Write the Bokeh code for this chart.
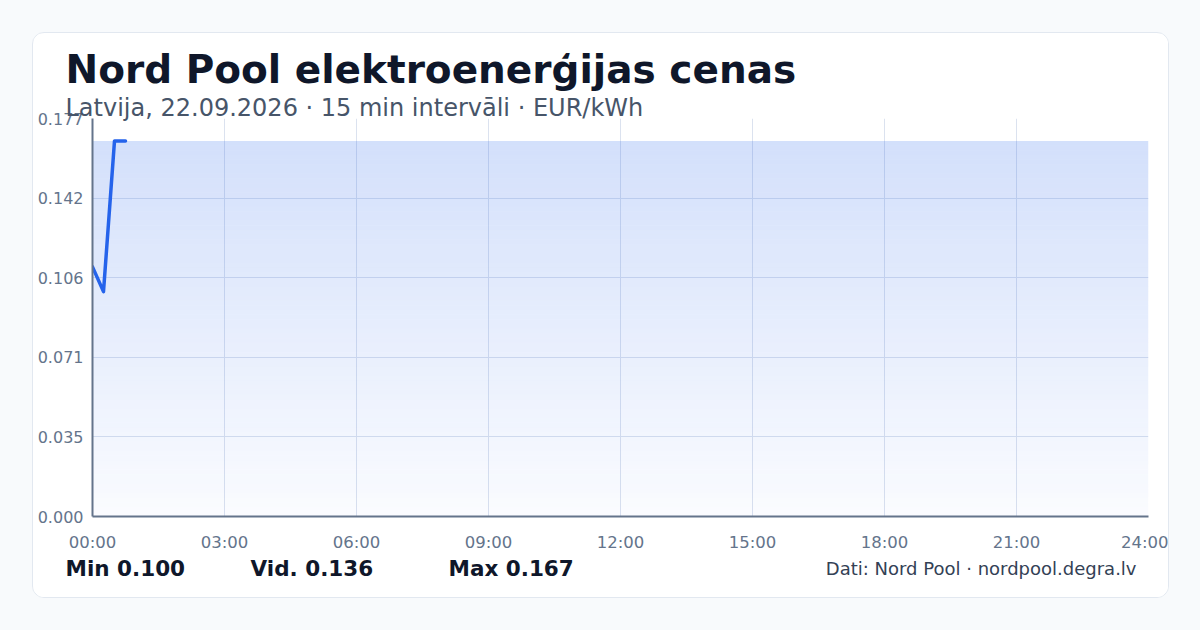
from bokeh.plotting import figure
from bokeh.models import Title, FixedTicker, ColumnDataSource, Range1d
from bokeh.layouts import column
from bokeh.core.properties import value
from bokeh.embed import file_html
from bokeh.resources import INLINE

# Nord Pool cenas, 15 min intervāli (stundas no dienas sākuma)
hours = [0.0, 0.25, 0.5, 0.75]
prices = [0.111, 0.100, 0.167, 0.167]

title_text = "Nord Pool elektroenerģijas cenas"
subtitle_text = "Latvija, 22.09.2026 · 15 min intervāli · EUR/kWh"
source_text = "Dati: Nord Pool · nordpool.degra.lv"
x_ticks = [0, 3, 6, 9, 12, 15, 18, 21, 24]
x_tick_labels = ["00:00", "03:00", "06:00", "09:00", "12:00", "15:00", "18:00", "21:00", "24:00"]

p_min = min(prices)
p_max = max(prices)
p_avg = sum(prices) / len(prices)
y_top = 0.177
y_ticks = [y_top * i / 5 for i in range(6)]

CARD_W = 1135
FOOT_H = 43

p = figure(width=CARD_W, height=521, x_range=(0, 24), y_range=(0, y_top),
           output_backend="svg", toolbar_location=None, tools="",
           min_border_left=59, min_border_right=20, min_border_top=85, min_border_bottom=34,
           background_fill_color="white", border_fill_color="white")
p.outline_line_color = None

# gradienta laukums līdz maksimālajai cenai
n_bands = 80
bottoms = [p_max * i / n_bands for i in range(n_bands)]
tops = [p_max * (i + 1) / n_bands for i in range(n_bands)]
alphas = [0.02 + 0.18 * (i + 1) / n_bands for i in range(n_bands)]
band_src = ColumnDataSource(dict(bottom=bottoms, top=tops, alpha=alphas,
                                 left=[0] * n_bands, right=[24] * n_bands))
p.quad(left="left", right="right", bottom="bottom", top="top", source=band_src,
       fill_color="#2563eb", fill_alpha="alpha", line_color=None)

p.line(hours, prices, line_color="#2563eb", line_width=3.5, line_join="round", line_cap="round")

# asis
p.xaxis.ticker = FixedTicker(ticks=x_ticks)
p.xaxis.major_label_overrides = {t: l for t, l in zip(x_ticks, x_tick_labels)}
p.yaxis.ticker = FixedTicker(ticks=y_ticks)
p.yaxis.major_label_overrides = {t: "%.3f" % t for t in y_ticks}
for ax in (p.xaxis, p.yaxis):
    ax.axis_line_color = "#64748b"
    ax.axis_line_width = 2
    ax.major_tick_line_color = None
    ax.minor_tick_line_color = None
    ax.major_tick_out = 0
    ax.major_tick_in = 0
    ax.major_label_text_color = "#64748b"
    ax.major_label_text_font = "DejaVu Sans"
p.xaxis.major_label_text_font_size = "16.5px"
p.yaxis.major_label_text_font_size = "16px"
p.xaxis.major_label_standoff = 16
p.yaxis.major_label_standoff = 9
p.grid.grid_line_color = "#dbe2ef"
p.grid.grid_line_width = 1

# virsraksti
p.add_layout(Title(text=subtitle_text, align="left", offset=-27, standoff=-7,
                   text_font="DejaVu Sans", text_font_size="24px", text_font_style="normal",
                   text_color="#475569"), "above")
p.add_layout(Title(text=title_text, align="left", offset=-27, standoff=7,
                   text_font="DejaVu Sans", text_font_size="39px", text_font_style="bold",
                   text_color="#0f172a"), "above")

# kopsavilkuma rinda
foot = figure(width=CARD_W, height=FOOT_H, x_range=Range1d(0, CARD_W), y_range=Range1d(FOOT_H, 0),
              output_backend="svg", toolbar_location=None, tools="",
              min_border=0, background_fill_color="white", border_fill_color="white")
foot.outline_line_color = None
foot.axis.visible = False
foot.grid.visible = False
stat_labels = ["Min %.3f" % p_min, "Vid. %.3f" % p_avg, "Max %.3f" % p_max]
stat_x = [32, 217, 415]
foot.text(x=stat_x, y=[14] * 3, text=stat_labels, text_font=value("DejaVu Sans"),
          text_font_style="bold", text_font_size="21.5px", text_color="#0f172a",
          text_baseline="middle")
foot.text(x=[1103], y=[14], text=[source_text], text_font=value("DejaVu Sans"),
          text_font_size="18px", text_color="#334155", text_align="right",
          text_baseline="middle")

card = column(p, column(foot), spacing=0,
              styles={"background-color": "white", "border": "1px solid #e2e8f0",
                      "border-radius": "12px", "overflow": "hidden"})
page = column(card, width=1200, height=630,
              styles={"background-color": "#f8fafc", "padding": "32px 0 0 32px"})

open("out.html", "w").write(file_html(page, INLINE))
